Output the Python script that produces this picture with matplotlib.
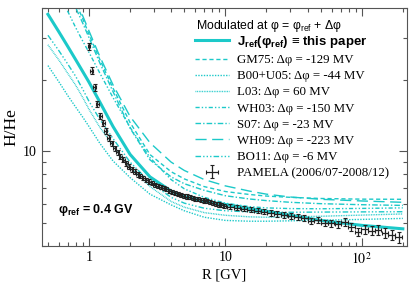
import numpy as np
import matplotlib
matplotlib.use("Agg")
import matplotlib.pyplot as plt
from matplotlib.ticker import FixedLocator, FuncFormatter, NullFormatter, LogLocator

# PAMELA H/He (2006/07-2008/12)
R_pam = [1.00, 1.05, 1.10, 1.15, 1.21, 1.27, 1.33, 1.40, 1.47, 1.54,
         1.62, 1.70, 1.78, 1.87, 1.96, 2.06, 2.16, 2.27, 2.38, 2.50,
         2.63, 2.76, 2.90, 3.04, 3.19, 3.35, 3.52, 3.70, 3.88, 4.08,
         4.28, 4.50, 4.72, 4.96, 5.21, 5.47, 5.74, 6.03, 6.33, 6.65,
         6.98, 7.33, 7.70, 8.08, 8.49, 8.91, 9.36, 9.82,
         10.9, 12.2, 13.7, 15.3, 17.2, 19.2, 21.5, 24.1, 27.0, 30.3,
         33.9, 38.0, 42.5, 47.6, 53.3, 59.7, 66.9, 74.9, 83.9, 94.0,
         105, 118, 132, 148, 166, 186]
hhe_pam = [27.6, 21.8, 18.6, 15.8, 14.1, 13.1, 12.2, 11.4, 10.8, 10.3,
           9.9, 9.5, 9.2, 8.9, 8.62, 8.4, 8.2, 8.0, 7.85, 7.7,
           7.58, 7.45, 7.33, 7.22, 7.13, 7.05, 6.98, 6.92, 6.83, 6.75,
           6.68, 6.62, 6.56, 6.50, 6.45, 6.40, 6.36, 6.32, 6.28, 6.25,
           6.21, 6.17, 6.10, 6.05, 6.01, 5.97, 5.93, 5.90,
           5.85, 5.80, 5.74, 5.68, 5.62, 5.56, 5.50, 5.45, 5.40, 5.35,
           5.28, 5.22, 5.08, 5.13, 5.00, 4.97, 4.94, 5.05, 4.82, 4.58,
           4.69, 4.63, 4.66, 4.52, 4.44, 4.34]
rel_err = [0.035, 0.035, 0.033, 0.032, 0.03, 0.03, 0.028, 0.027, 0.026, 0.025,
           0.025, 0.024, 0.024, 0.023, 0.023, 0.022, 0.022, 0.022, 0.021, 0.021,
           0.021, 0.021, 0.02, 0.02, 0.02, 0.02, 0.02, 0.02, 0.02, 0.02,
           0.02, 0.02, 0.02, 0.02, 0.02, 0.02, 0.02, 0.02, 0.02, 0.02,
           0.02, 0.02, 0.02, 0.021, 0.021, 0.021, 0.021, 0.022,
           0.022, 0.022, 0.023, 0.023, 0.024, 0.024, 0.025, 0.025, 0.026, 0.027,
           0.028, 0.029, 0.03, 0.031, 0.032, 0.033, 0.034, 0.036, 0.038, 0.04,
           0.042, 0.044, 0.046, 0.048, 0.05, 0.052]
bin_half = [0.025] * 48 + [0.055] * 26

# modulated model curves
R_mod = [0.5, 0.6, 0.7, 0.8, 0.9, 1.0, 1.2, 1.5, 2.0, 2.8,
         4.0, 5.0, 7.0, 10, 15, 20, 30, 50, 100, 200]
this_paper = [37.6, 31.8, 27.5, 24.2, 21.6, 19.5, 16.1, 12.7, 9.7, 7.8,
              6.8, 6.45, 6.15, 5.97, 5.75, 5.6, 5.38, 5.12, 4.88, 4.72]
gm75 = [80, 62, 50, 42, 36, 31, 24.3, 18.4, 13.2, 9.68,
        8.2, 7.65, 7.1, 6.77, 6.58, 6.48, 6.4, 6.33, 6.29, 6.28]
b00u05 = [22.9, 19.6, 17.1, 15.3, 13.9, 12.7, 10.8, 9.1, 7.75, 6.6,
          5.95, 5.62, 5.28, 5.12, 5.08, 5.08, 5.1, 5.13, 5.17, 5.22]
l03 = [28.0, 24.2, 21.2, 18.9, 16.8, 15.0, 12.6, 10.6, 8.6, 7.1,
       6.15, 5.82, 5.52, 5.38, 5.3, 5.28, 5.3, 5.33, 5.39, 5.45]
wh03 = [56, 46, 38.6, 33, 29, 26, 21.3, 16.8, 12.6, 9.4,
        7.6, 6.95, 6.4, 6.05, 5.85, 5.78, 5.74, 5.73, 5.75, 5.78]
s07 = [75, 58, 47.5, 40, 34.5, 30, 23.5, 17.8, 12.5, 9.2,
       7.8, 7.3, 6.85, 6.5, 6.3, 6.2, 6.1, 6.02, 5.96, 5.92]
wh09 = [85, 66, 53, 43.5, 37, 32, 25, 19.0, 14.0, 10.85,
        9.0, 8.3, 7.6, 7.15, 6.8, 6.6, 6.42, 6.28, 6.18, 6.1]
bo11 = [30.7, 26.5, 23.2, 20.6, 18.2, 16.2, 13.6, 11.3, 9.0, 7.4,
        6.4, 6.05, 5.76, 5.62, 5.56, 5.54, 5.54, 5.55, 5.56, 5.57]

cyan = "#1cc9c9"
models = [
    (gm75, "GM75: Δφ = -129 MV", (0, (3, 2))),
    (b00u05, "B00+U05: Δφ = -44 MV", (0, (1, 1))),
    (l03, "L03: Δφ = 60 MV", (0, (0.6, 0.6))),
    (wh03, "WH03: Δφ = -150 MV", (0, (3, 1.5, 1, 1.5, 1, 1.5))),
    (s07, "S07: Δφ = -23 MV", (0, (4, 1.5, 1, 1.5))),
    (wh09, "WH09: Δφ = -223 MV", (0, (8, 4))),
    (bo11, "BO11: Δφ = -6 MV", (0, (4, 1.5, 1, 1.5, 1, 1.5, 1, 1.5))),
]

plt.rcParams["mathtext.fontset"] = "custom"
plt.rcParams["mathtext.rm"] = "Liberation Sans"
plt.rcParams["mathtext.it"] = "Liberation Sans:italic"
plt.rcParams["mathtext.bf"] = "Liberation Sans:bold"

serif = "Liberation Serif"
sans = "Liberation Sans"
fig = plt.figure(figsize=(4.15, 2.83), dpi=100)
ax = fig.add_axes([0.1005, 0.131, 0.8805, 0.841])

h_main, = ax.plot(R_mod, this_paper, color=cyan, lw=2.2,
                  label=r"J$_{\mathbf{ref}}$(φ$_{\mathbf{ref}}$) ≡ this paper")
handles = [h_main]
for vals, lab, ls in models:
    h, = ax.plot(R_mod, vals, color=cyan, lw=1.0, ls=ls, label=lab)
    handles.append(h)

R = np.array(R_pam)
y = np.array(hhe_pam)
yerr = y * np.array(rel_err)
xerr = R * np.array(bin_half)
eb = ax.errorbar(R, y, yerr=yerr, xerr=xerr, fmt="none", ecolor="#222222",
                 elinewidth=0.9, capsize=1.3, capthick=0.8,
                 label="PAMELA (2006/07-2008/12)")
handles.append(eb)

ax.set_xscale("log")
ax.set_yscale("log")
ax.set_xlim(0.45, 215)
ax.set_ylim(4, 40)

ax.xaxis.set_major_locator(FixedLocator([1, 10, 100]))
ax.xaxis.set_major_formatter(FuncFormatter(
    lambda v, p: {1: "1", 10: "10", 100: r"$10^2$"}.get(int(round(v)), "")))
ax.xaxis.set_minor_locator(LogLocator(base=10, subs=np.arange(2, 10)))
ax.xaxis.set_minor_formatter(NullFormatter())
ax.yaxis.set_major_locator(FixedLocator([10]))
ax.yaxis.set_major_formatter(FuncFormatter(lambda v, p: "10"))
ax.yaxis.set_minor_locator(LogLocator(base=10, subs=np.arange(2, 10)))
ax.yaxis.set_minor_formatter(NullFormatter())

ax.tick_params(which="both", direction="in", top=True, right=True,
               color="#555555", width=0.8, labelsize=10)
ax.tick_params(which="major", length=6)
ax.tick_params(which="minor", length=3)
for lab in ax.get_xticklabels() + ax.get_yticklabels():
    lab.set_family(serif)
    lab.set_math_fontfamily("stix")
for s in ax.spines.values():
    s.set_color("#555555")
    s.set_linewidth(0.8)

ax.set_xlabel("R [GV]", family=serif, fontsize=10.5, labelpad=0)
ax.xaxis.set_label_coords(0.5, -0.095)
ax.set_ylabel("H/He", family=serif, fontsize=12.5)
ax.yaxis.set_label_coords(-0.06, 0.5)

ax.text(0.045, 0.14, r"φ$_{\mathbf{ref}}$ = 0.4 GV", transform=ax.transAxes,
        fontsize=9, fontweight="bold", family=sans)

ax.text(0.4224, 0.922, r"Modulated at φ = φ$_{\rm ref}$ + Δφ", transform=ax.transAxes,
        fontsize=8.8, family=sans, va="center", ha="left")

leg = ax.legend(handles=handles, loc="upper left", bbox_to_anchor=(0.42, 0.891),
                frameon=False, fontsize=9.3, handlelength=2.6, handletextpad=0.6,
                labelspacing=0.32, borderpad=0, borderaxespad=0)
for i, t in enumerate(leg.get_texts()):
    if i == 0:
        t.set_family(sans)
        t.set_fontweight("bold")
        t.set_fontsize(9.5)
    else:
        t.set_family(serif)

fig.savefig("out.png", dpi=100)
